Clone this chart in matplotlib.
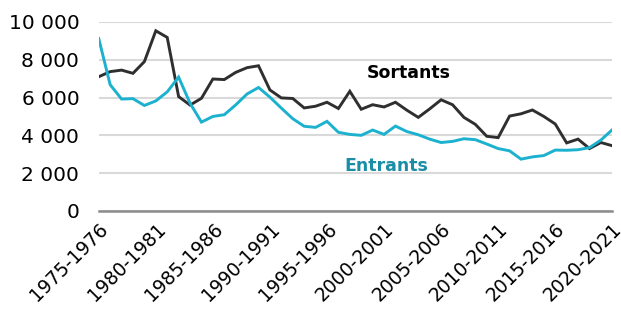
import matplotlib.pyplot as plt
from matplotlib.ticker import FuncFormatter

years = [f"{y}-{y + 1}" for y in range(1975, 2021)]

sortants = [7100, 7370, 7450, 7280, 7900, 9530, 9180, 6050, 5600, 5960,
            6980, 6950, 7330, 7580, 7680, 6400, 5980, 5950, 5450, 5540,
            5750, 5420, 6330, 5380, 5620, 5500, 5750, 5330, 4950, 5400,
            5880, 5620, 4950, 4580, 3950, 3880, 5020, 5140, 5340, 5000,
            4600, 3600, 3800, 3300, 3620, 3450]

entrants = [9120, 6680, 5920, 5940, 5580, 5820, 6300, 7080, 5700, 4700,
            5000, 5090, 5610, 6190, 6530, 6020, 5440, 4880, 4480, 4420,
            4740, 4160, 4050, 4000, 4280, 4050, 4490, 4200, 4030, 3800,
            3620, 3680, 3820, 3770, 3540, 3300, 3180, 2740, 2860, 2930,
            3220, 3210, 3240, 3350, 3750, 4300]

x = list(range(len(years)))

fig = plt.figure(figsize=(6.21, 3.13), dpi=100)
ax = fig.add_axes([0.159, 0.326, 0.827, 0.604])

ax.plot(x, sortants, color="#2f2f2f", lw=2.1, solid_joinstyle="miter")
ax.plot(x, entrants, color="#1bb1cf", lw=2.1, solid_joinstyle="miter")

ax.text(27.2, 7300, "Sortants", fontsize=12.5, fontweight="bold",
        color="black", ha="center", va="center")
ax.text(25.2, 2380, "Entrants", fontsize=12.5, fontweight="bold",
        color="#1a8ea6", ha="center", va="center")

ax.set_xlim(0, len(years) - 1)
ax.set_ylim(0, 10000)
ax.set_yticks(range(0, 10001, 2000))
ax.yaxis.set_major_formatter(FuncFormatter(lambda v, p: f"{int(v):,}".replace(",", " ")))
ax.grid(axis="y", color="#d9d9d9", lw=1.5)
ax.set_axisbelow(True)

ax.set_xticks(x[::5])
ax.set_xticklabels(years[::5], rotation=45, ha="right", va="top",
                   rotation_mode="anchor")

for side in ["top", "right", "left"]:
    ax.spines[side].set_visible(False)
ax.spines["bottom"].set_color("#8c8c8c")
ax.spines["bottom"].set_linewidth(1.8)

ax.tick_params(axis="both", length=0, colors="black")
ax.tick_params(axis="y", pad=14, labelsize=14.5)
ax.tick_params(axis="x", pad=6, labelsize=13.5)

fig.savefig("out.png", dpi=100)
